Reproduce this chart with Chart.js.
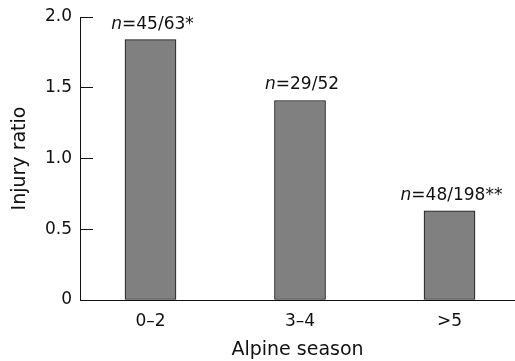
<!DOCTYPE html>
<html>
<head>
<meta charset="utf-8">
<script src="https://cdn.jsdelivr.net/npm/chart.js@4"></script>
<style>
  html, body { margin: 0; padding: 0; background: #fff; }
  #wrap { width: 515px; height: 361px; position: relative; }
</style>
</head>
<body>
<div id="wrap"><canvas id="bar-chart"></canvas></div>
<script>
// data
var seasons = ['0\u20132', '3\u20134', '>5'];
var injuryRatio = [1.84, 1.41, 0.63];
var nLabels = ['=45/63*', '=29/52', '=48/198**'];
var yTickLabels = ['0', '0.5', '1.0', '1.5', '2.0'];

var FONT = '"DejaVu Sans", "Noto Sans", sans-serif';

// "n=.." over every bar, n in italic
var barNotes = {
    id: 'barNotes',
    afterDatasetsDraw: function (chart) {
        var ctx = chart.ctx;
        var meta = chart.getDatasetMeta(0);
        ctx.save();
        ctx.fillStyle = '#111';
        ctx.textBaseline = 'alphabetic';
        ctx.textAlign = 'left';
        meta.data.forEach(function (bar, i) {
            ctx.font = 'italic 17px ' + FONT;
            var w1 = ctx.measureText('n').width;
            ctx.font = '17px ' + FONT;
            var w2 = ctx.measureText(nLabels[i]).width;
            var x0 = bar.x - (w1 + w2) / 2 + 2;
            var y = bar.y - 11;
            ctx.font = 'italic 17px ' + FONT;
            ctx.fillText('n', x0, y);
            ctx.font = '17px ' + FONT;
            ctx.fillText(nLabels[i], x0 + w1, y);
        });
        ctx.restore();
    }
};

var ctx = document.getElementById('bar-chart').getContext('2d');
var myChart = new Chart(ctx, {
    type: 'bar',
    data: {
        datasets: [{
            data: injuryRatio.map(function (v, i) { return { x: i, y: v }; }),
            backgroundColor: '#808080',
            borderColor: '#111',
            borderWidth: 1,
            borderSkipped: false,
            barThickness: 51
        }]
    },
    options: {
        responsive: true,
        maintainAspectRatio: false,
        animation: false,
        layout: { padding: 0 },
        plugins: { legend: { display: false }, tooltip: { enabled: false } },
        scales: {
            x: {
                type: 'linear',
                offset: false,
                min: -0.4716,
                max: 2.4381,
                grid: { display: false },
                border: { display: true, color: '#111', width: 1 },
                afterBuildTicks: function (scale) {
                    scale.ticks = seasons.map(function (s, i) { return { value: i }; });
                },
                afterFit: function (scale) {
                    scale.height = 61;
                    scale.paddingLeft = 0;
                    scale.paddingRight = 0;
                },
                ticks: {
                    color: '#111',
                    padding: 3,
                    maxRotation: 0,
                    autoSkip: false,
                    font: { family: FONT, size: 17 },
                    callback: function (v) { return seasons[v]; }
                },
                title: {
                    display: true,
                    text: 'Alpine season',
                    color: '#111',
                    font: { family: FONT, size: 19 },
                    padding: { top: 0, bottom: 0 }
                }
            },
            y: {
                min: 0,
                max: 2,
                grid: {
                    drawOnChartArea: false,
                    drawTicks: true,
                    tickLength: -13,
                    color: '#111'
                },
                border: { display: true, color: '#111', width: 1 },
                afterFit: function (scale) {
                    scale.width = 80;
                    scale.paddingTop = 17;
                    scale.paddingBottom = 0;
                },
                ticks: {
                    stepSize: 0.5,
                    color: '#111',
                    padding: 21,
                    font: { family: FONT, size: 17 },
                    callback: function (v, i) { return yTickLabels[i]; }
                },
                title: {
                    display: true,
                    text: 'Injury ratio',
                    color: '#111',
                    font: { family: FONT, size: 19 },
                    padding: { top: 9, bottom: 0 }
                }
            }
        }
    },
    plugins: [barNotes]
});
</script>
</body>
</html>
